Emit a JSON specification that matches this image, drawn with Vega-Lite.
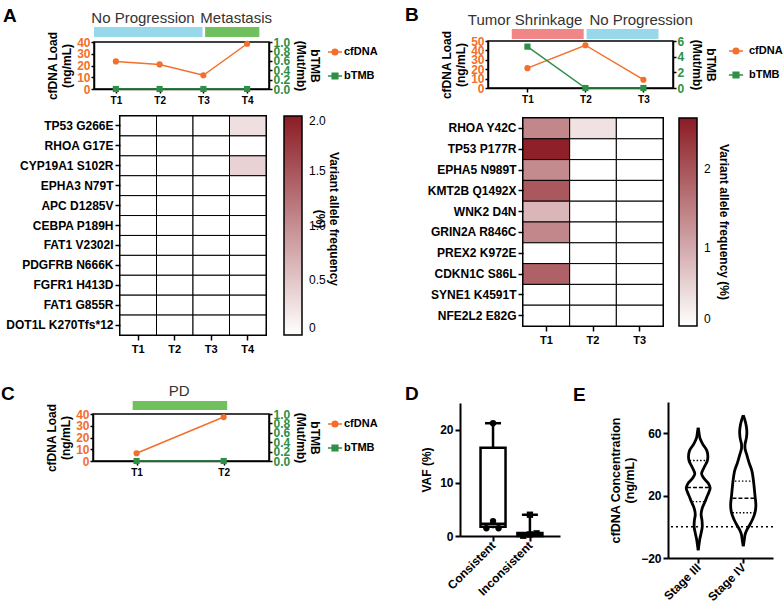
{
"$schema": "https://vega.github.io/schema/vega-lite/v6.json",
"padding": {"left": 1, "top": 6, "right": 0, "bottom": 0},
"config": {
  "font": "Liberation Sans",
  "view": {"stroke": null},
  "axis": {"grid": false, "offset": 0, "labelOverlap": false, "labelFont": "Liberation Sans", "titleFont": "Liberation Sans", "labelFontWeight": "bold", "titleFontWeight": "bold", "labelColor": "black", "titleColor": "black", "domainColor": "black", "tickColor": "black", "domainWidth": 1.5, "tickWidth": 1.5},
  "legend": {"labelFont": "Liberation Sans", "titleFont": "Liberation Sans", "labelColor": "black", "titleColor": "black"},
  "title": {"font": "Liberation Sans", "fontWeight": "bold", "fontSize": 19, "anchor": "start", "frame": "group", "offset": 0, "baseline": "alphabetic", "color": "black"}
},
"bounds": "flush",
"spacing": 0,
"resolve": {"scale": {"color": "independent", "shape": "independent"}},
"vconcat": [
 {"bounds": "flush", "spacing": 0, "resolve": {"scale": {"color": "independent", "shape": "independent"}}, "hconcat": [
   {"width": 4, "height": 1, "data": {"values": []}, "mark": "point"},
   {"width": 175, "height": 30,
    "title": {"text": "A", "dx": -91, "dy": 23},
    "data": {"values": [{"phase": "No Progression", "start": 0.5, "end": 2.98, "mid": 1.62}, {"phase": "Metastasis", "start": 3.04, "end": 4.28, "mid": 3.75}]},
    "layer": [
      {"mark": {"type": "rect"}, "encoding": {"x": {"field": "start", "type": "quantitative", "scale": {"domain": [0.5, 4.5], "nice": false, "zero": false}, "axis": null}, "x2": {"field": "end"}, "y": {"datum": 0, "type": "quantitative", "scale": {"domain": [0, 1], "nice": false}, "axis": null}, "y2": {"datum": 0.33}, "color": {"field": "phase", "type": "nominal", "scale": {"domain": ["No Progression", "Metastasis"], "range": ["#97D8EA", "#70C15E"]}, "legend": null}}},
      {"mark": {"type": "text", "fontSize": 15, "color": "#333333"}, "encoding": {"x": {"field": "mid", "type": "quantitative"}, "y": {"datum": 0.63, "type": "quantitative"}, "text": {"field": "phase"}}}
    ]}
 ]},
 {"width": 1, "height": 2, "data": {"values": []}, "mark": "point"},
 {"bounds": "flush", "spacing": 0, "resolve": {"scale": {"color": "independent", "shape": "independent"}}, "hconcat": [
   {"width": 398, "height": 1, "data": {"values": []}, "mark": "point"},
   {"width": 185, "height": 30,
    "title": {"text": "B", "dx": -83, "dy": 20},
    "data": {"values": [{"phase": "Tumor Shrinkage", "start": 0.73, "end": 1.97, "mid": 0.96}, {"phase": "No Progression", "start": 2.02, "end": 3.26, "mid": 2.96}]},
    "layer": [
      {"mark": {"type": "rect"}, "encoding": {"x": {"field": "start", "type": "quantitative", "scale": {"domain": [0.32, 3.51], "nice": false, "zero": false}, "axis": null}, "x2": {"field": "end"}, "y": {"datum": 0, "type": "quantitative", "scale": {"domain": [0, 1], "nice": false}, "axis": null}, "y2": {"datum": 0.33}, "color": {"field": "phase", "type": "nominal", "scale": {"domain": ["Tumor Shrinkage", "No Progression"], "range": ["#F08686", "#97D8EA"]}, "legend": null}}},
      {"mark": {"type": "text", "fontSize": 15, "color": "#333333"}, "encoding": {"x": {"field": "mid", "type": "quantitative"}, "y": {"datum": 0.63, "type": "quantitative"}, "text": {"field": "phase"}}}
    ]}
 ]},
 {"width": 1, "height": 32, "data": {"values": []}, "mark": "point"},
 {"bounds": "flush", "spacing": 0, "resolve": {"scale": {"color": "independent", "shape": "independent"}}, "hconcat": [
   {"width": 398, "height": 1, "data": {"values": []}, "mark": "point"},
   {"width": 185, "height": 47, "view": {"stroke": "black", "strokeWidth": 1.5},
    "data": {"values": [{"t": 1, "series": "cfDNA", "value": 21.1}, {"t": 2, "series": "cfDNA", "value": 45.5}, {"t": 3, "series": "cfDNA", "value": 8.8}, {"t": 1, "series": "bTMB", "value": 5.28}, {"t": 2, "series": "bTMB", "value": 0}, {"t": 3, "series": "bTMB", "value": 0}]},
    "encoding": {"x": {"field": "t", "type": "quantitative", "scale": {"domain": [0.32, 3.51], "nice": false, "zero": false}, "axis": {"values": [1, 2, 3], "labelExpr": "'T' + datum.value", "title": null, "labelFontSize": 10, "tickSize": 4, "labelPadding": 2, "offset": 0}}},
    "layer": [
      {"transform": [{"filter": "datum.series === 'cfDNA'"}],
       "encoding": {"y": {"field": "value", "type": "quantitative", "scale": {"domain": [0, 50], "nice": false}, "axis": {"orient": "left", "offset": 0, "values": [0, 10, 20, 30, 40, 50], "labelColor": "#F36F2B", "labelFontSize": 12, "tickSize": 3, "labelPadding": 1, "title": ["cfDNA Load", "(ng/mL)"], "titleFontSize": 12, "titlePadding": 3}},
         "color": {"field": "series", "type": "nominal", "scale": {"domain": ["cfDNA", "bTMB"], "range": ["#F36F2B", "#2F8F46"]}, "legend": {"title": null, "orient": "right", "offset": 9, "padding": 2, "rowPadding": 10, "labelFontSize": 11, "labelFontWeight": "bold", "symbolSize": 200, "symbolStrokeWidth": 1.5, "labelOffset": 5, "encode": {"symbols": {"update": {"shape": {"signal": "datum.value === 'cfDNA' ? 'M-1,0H-0.4M0.4,0H1M-0.4,0A0.4,0.4,0,1,0,0.4,0A0.4,0.4,0,1,0,-0.4,0Z' : 'M-1,0H-0.4M0.4,0H1M-0.4,-0.4H0.4V0.4H-0.4Z'"}, "fill": {"signal": "datum.value === 'cfDNA' ? '#F36F2B' : '#2F8F46'"}, "stroke": {"signal": "datum.value === 'cfDNA' ? '#F36F2B' : '#2F8F46'"}, "opacity": {"value": 1}, "fillOpacity": {"value": 1}, "strokeOpacity": {"value": 1}}}}}}},
       "layer": [{"mark": {"type": "line", "strokeWidth": 1.5}}, {"mark": {"type": "point", "filled": true, "opacity": 1, "size": 38, "shape": "circle"}}]},
      {"transform": [{"filter": "datum.series === 'bTMB'"}],
       "encoding": {"y": {"field": "value", "type": "quantitative", "scale": {"domain": [0, 6], "nice": false}, "axis": {"orient": "right", "offset": 0, "values": [0, 2, 4, 6], "labelColor": "#2F8F46", "labelFontSize": 12, "tickSize": 3, "labelPadding": 1, "title": ["bTMB", "(Mut/mb)"], "titleFontSize": 12, "titlePadding": 6}},
         "color": {"field": "series", "type": "nominal", "scale": {"domain": ["cfDNA", "bTMB"], "range": ["#F36F2B", "#2F8F46"]}}},
       "layer": [{"mark": {"type": "line", "strokeWidth": 1.5}}, {"mark": {"type": "point", "filled": true, "opacity": 1, "size": 38, "shape": "square"}}]}
    ],
    "resolve": {"scale": {"y": "independent"}}}
 ]},
 {"width": 1, "height": 1, "data": {"values": []}, "mark": "point"},
 {"bounds": "flush", "spacing": 0, "resolve": {"scale": {"color": "independent", "shape": "independent"}}, "hconcat": [
   {"width": 4, "height": 1, "data": {"values": []}, "mark": "point"},
   {"width": 175, "height": 47, "view": {"stroke": "black", "strokeWidth": 1.5},
    "data": {"values": [{"t": 1, "series": "cfDNA", "value": 23.5}, {"t": 2, "series": "cfDNA", "value": 20.9}, {"t": 3, "series": "cfDNA", "value": 11.7}, {"t": 4, "series": "cfDNA", "value": 38.5}, {"t": 1, "series": "bTMB", "value": 0}, {"t": 2, "series": "bTMB", "value": 0}, {"t": 3, "series": "bTMB", "value": 0}, {"t": 4, "series": "bTMB", "value": 0}]},
    "encoding": {"x": {"field": "t", "type": "quantitative", "scale": {"domain": [0.5, 4.5], "nice": false, "zero": false}, "axis": {"values": [1, 2, 3, 4], "labelExpr": "'T' + datum.value", "title": null, "labelFontSize": 10, "tickSize": 4, "labelPadding": 2, "offset": 0}}},
    "layer": [
      {"transform": [{"filter": "datum.series === 'cfDNA'"}],
       "encoding": {"y": {"field": "value", "type": "quantitative", "scale": {"domain": [0, 40], "nice": false}, "axis": {"orient": "left", "offset": 0, "values": [0, 10, 20, 30, 40], "labelColor": "#F36F2B", "labelFontSize": 12, "tickSize": 3, "labelPadding": 1, "title": ["cfDNA Load", "(ng/mL)"], "titleFontSize": 12, "titlePadding": 3}},
         "color": {"field": "series", "type": "nominal", "scale": {"domain": ["cfDNA", "bTMB"], "range": ["#F36F2B", "#2F8F46"]}, "legend": {"title": null, "orient": "right", "offset": 4, "padding": 2, "rowPadding": 10, "labelFontSize": 11, "labelFontWeight": "bold", "symbolSize": 200, "symbolStrokeWidth": 1.5, "labelOffset": 1, "encode": {"symbols": {"update": {"shape": {"signal": "datum.value === 'cfDNA' ? 'M-1,0H-0.4M0.4,0H1M-0.4,0A0.4,0.4,0,1,0,0.4,0A0.4,0.4,0,1,0,-0.4,0Z' : 'M-1,0H-0.4M0.4,0H1M-0.4,-0.4H0.4V0.4H-0.4Z'"}, "fill": {"signal": "datum.value === 'cfDNA' ? '#F36F2B' : '#2F8F46'"}, "stroke": {"signal": "datum.value === 'cfDNA' ? '#F36F2B' : '#2F8F46'"}, "opacity": {"value": 1}, "fillOpacity": {"value": 1}, "strokeOpacity": {"value": 1}}}}}}},
       "layer": [{"mark": {"type": "line", "strokeWidth": 1.5}}, {"mark": {"type": "point", "filled": true, "opacity": 1, "size": 38, "shape": "circle"}}]},
      {"transform": [{"filter": "datum.series === 'bTMB'"}],
       "encoding": {"y": {"field": "value", "type": "quantitative", "scale": {"domain": [0, 1], "nice": false}, "axis": {"orient": "right", "offset": 0, "values": [0, 0.2, 0.4, 0.6, 0.8, 1], "format": ".1f", "labelColor": "#2F8F46", "labelFontSize": 12, "tickSize": 3, "labelPadding": 1, "title": ["bTMB", "(Mut/mb)"], "titleFontSize": 12, "titlePadding": 4}},
         "color": {"field": "series", "type": "nominal", "scale": {"domain": ["cfDNA", "bTMB"], "range": ["#F36F2B", "#2F8F46"]}}},
       "layer": [{"mark": {"type": "line", "strokeWidth": 1.5}}, {"mark": {"type": "point", "filled": true, "opacity": 1, "size": 38, "shape": "square"}}]}
    ],
    "resolve": {"scale": {"y": "independent"}}}
 ]},
 {"width": 1, "height": 74, "data": {"values": []}, "mark": "point"},
 {"bounds": "flush", "spacing": 0, "resolve": {"scale": {"color": "independent"}}, "hconcat": [
   {"width": 30, "height": 1, "data": {"values": []}, "mark": "point"},
   {"width": 146, "height": 219,
    "view": {"stroke": "black", "strokeWidth": 2},
    "data": {"values": [
      {"g": "TP53 G266E", "t": "T1", "v": 0}, {"g": "TP53 G266E", "t": "T2", "v": 0}, {"g": "TP53 G266E", "t": "T3", "v": 0}, {"g": "TP53 G266E", "t": "T4", "v": 0.28},
      {"g": "RHOA G17E", "t": "T1", "v": 0}, {"g": "RHOA G17E", "t": "T2", "v": 0}, {"g": "RHOA G17E", "t": "T3", "v": 0}, {"g": "RHOA G17E", "t": "T4", "v": 0},
      {"g": "CYP19A1 S102R", "t": "T1", "v": 0}, {"g": "CYP19A1 S102R", "t": "T2", "v": 0}, {"g": "CYP19A1 S102R", "t": "T3", "v": 0}, {"g": "CYP19A1 S102R", "t": "T4", "v": 0.4},
      {"g": "EPHA3 N79T", "t": "T1", "v": 0}, {"g": "EPHA3 N79T", "t": "T2", "v": 0}, {"g": "EPHA3 N79T", "t": "T3", "v": 0}, {"g": "EPHA3 N79T", "t": "T4", "v": 0},
      {"g": "APC D1285V", "t": "T1", "v": 0}, {"g": "APC D1285V", "t": "T2", "v": 0}, {"g": "APC D1285V", "t": "T3", "v": 0}, {"g": "APC D1285V", "t": "T4", "v": 0},
      {"g": "CEBPA P189H", "t": "T1", "v": 0}, {"g": "CEBPA P189H", "t": "T2", "v": 0}, {"g": "CEBPA P189H", "t": "T3", "v": 0}, {"g": "CEBPA P189H", "t": "T4", "v": 0},
      {"g": "FAT1 V2302I", "t": "T1", "v": 0}, {"g": "FAT1 V2302I", "t": "T2", "v": 0}, {"g": "FAT1 V2302I", "t": "T3", "v": 0}, {"g": "FAT1 V2302I", "t": "T4", "v": 0},
      {"g": "PDGFRB N666K", "t": "T1", "v": 0}, {"g": "PDGFRB N666K", "t": "T2", "v": 0}, {"g": "PDGFRB N666K", "t": "T3", "v": 0}, {"g": "PDGFRB N666K", "t": "T4", "v": 0},
      {"g": "FGFR1 H413D", "t": "T1", "v": 0}, {"g": "FGFR1 H413D", "t": "T2", "v": 0}, {"g": "FGFR1 H413D", "t": "T3", "v": 0}, {"g": "FGFR1 H413D", "t": "T4", "v": 0},
      {"g": "FAT1 G855R", "t": "T1", "v": 0}, {"g": "FAT1 G855R", "t": "T2", "v": 0}, {"g": "FAT1 G855R", "t": "T3", "v": 0}, {"g": "FAT1 G855R", "t": "T4", "v": 0},
      {"g": "DOT1L K270Tfs*12", "t": "T1", "v": 0}, {"g": "DOT1L K270Tfs*12", "t": "T2", "v": 0}, {"g": "DOT1L K270Tfs*12", "t": "T3", "v": 0}, {"g": "DOT1L K270Tfs*12", "t": "T4", "v": 0}
    ]},
    "mark": {"type": "rect", "stroke": "black", "strokeWidth": 1},
    "encoding": {
      "x": {"field": "t", "type": "ordinal", "sort": ["T1", "T2", "T3", "T4"], "axis": {"title": null, "labelAngle": 0, "domain": false, "labelFontSize": 11, "tickSize": 5, "labelPadding": 3}},
      "y": {"field": "g", "type": "ordinal", "sort": ["TP53 G266E", "RHOA G17E", "CYP19A1 S102R", "EPHA3 N79T", "APC D1285V", "CEBPA P189H", "FAT1 V2302I", "PDGFRB N666K", "FGFR1 H413D", "FAT1 G855R", "DOT1L K270Tfs*12"], "axis": {"title": null, "domain": false, "labelFontSize": 12, "tickSize": 5, "labelPadding": 2}},
      "color": {"field": "v", "type": "quantitative", "scale": {"domain": [0, 2], "range": ["#FFFFFF", "#8B1C24"], "interpolate": "rgb"}, "legend": {"title": ["Variant allele frequency", "(%)"], "titleOrient": "right", "titleAnchor": "middle", "direction": "vertical", "orient": "right", "offset": 18, "gradientLength": 219, "gradientThickness": 18, "gradientStrokeColor": "black", "gradientStrokeWidth": 1.5, "values": [0, 0.5, 1, 1.5, 2], "labelExpr": "datum.value === 0 ? '0' : format(datum.value, '.1f')", "labelOverlap": false, "labelFontSize": 12, "labelFontWeight": "normal", "labelOffset": 7, "titleFontSize": 12, "titleFontWeight": "bold", "titlePadding": 1, "titleLimit": 300}}
    }}
 ]},
 {"width": 1, "height": 2, "data": {"values": []}, "mark": "point"},
 {"bounds": "flush", "spacing": 0, "resolve": {"scale": {"color": "independent"}}, "hconcat": [
   {"width": 433, "height": 1, "data": {"values": []}, "mark": "point"},
   {"width": 140, "height": 208,
    "view": {"stroke": "black", "strokeWidth": 2},
    "data": {"values": [
      {"g": "RHOA Y42C", "t": "T1", "v": 1.4}, {"g": "RHOA Y42C", "t": "T2", "v": 0.35}, {"g": "RHOA Y42C", "t": "T3", "v": 0},
      {"g": "TP53 P177R", "t": "T1", "v": 2.6}, {"g": "TP53 P177R", "t": "T2", "v": 0}, {"g": "TP53 P177R", "t": "T3", "v": 0},
      {"g": "EPHA5 N989T", "t": "T1", "v": 1.35}, {"g": "EPHA5 N989T", "t": "T2", "v": 0}, {"g": "EPHA5 N989T", "t": "T3", "v": 0},
      {"g": "KMT2B Q1492X", "t": "T1", "v": 1.95}, {"g": "KMT2B Q1492X", "t": "T2", "v": 0}, {"g": "KMT2B Q1492X", "t": "T3", "v": 0},
      {"g": "WNK2 D4N", "t": "T1", "v": 0.85}, {"g": "WNK2 D4N", "t": "T2", "v": 0}, {"g": "WNK2 D4N", "t": "T3", "v": 0},
      {"g": "GRIN2A R846C", "t": "T1", "v": 1.4}, {"g": "GRIN2A R846C", "t": "T2", "v": 0}, {"g": "GRIN2A R846C", "t": "T3", "v": 0},
      {"g": "PREX2 K972E", "t": "T1", "v": 0}, {"g": "PREX2 K972E", "t": "T2", "v": 0}, {"g": "PREX2 K972E", "t": "T3", "v": 0},
      {"g": "CDKN1C S86L", "t": "T1", "v": 1.85}, {"g": "CDKN1C S86L", "t": "T2", "v": 0}, {"g": "CDKN1C S86L", "t": "T3", "v": 0},
      {"g": "SYNE1 K4591T", "t": "T1", "v": 0}, {"g": "SYNE1 K4591T", "t": "T2", "v": 0}, {"g": "SYNE1 K4591T", "t": "T3", "v": 0},
      {"g": "NFE2L2 E82G", "t": "T1", "v": 0}, {"g": "NFE2L2 E82G", "t": "T2", "v": 0}, {"g": "NFE2L2 E82G", "t": "T3", "v": 0}
    ]},
    "mark": {"type": "rect", "stroke": "black", "strokeWidth": 1},
    "encoding": {
      "x": {"field": "t", "type": "ordinal", "sort": ["T1", "T2", "T3"], "axis": {"title": null, "labelAngle": 0, "domain": false, "labelFontSize": 11, "tickSize": 5, "labelPadding": 3}},
      "y": {"field": "g", "type": "ordinal", "sort": ["RHOA Y42C", "TP53 P177R", "EPHA5 N989T", "KMT2B Q1492X", "WNK2 D4N", "GRIN2A R846C", "PREX2 K972E", "CDKN1C S86L", "SYNE1 K4591T", "NFE2L2 E82G"], "axis": {"title": null, "domain": false, "labelFontSize": 12, "tickSize": 5, "labelPadding": 2}},
      "color": {"field": "v", "type": "quantitative", "scale": {"domain": [0, 2.65], "range": ["#FFFFFF", "#8B1C24"], "interpolate": "rgb"}, "legend": {"title": "Variant allele frequency (%)", "titleOrient": "right", "titleAnchor": "middle", "direction": "vertical", "orient": "right", "offset": 16, "gradientLength": 208, "gradientThickness": 18, "gradientStrokeColor": "black", "gradientStrokeWidth": 1.5, "values": [0, 1, 2], "format": "d", "labelOverlap": false, "labelFontSize": 12, "labelFontWeight": "normal", "labelOffset": 7, "titleFontSize": 12, "titleFontWeight": "bold", "titlePadding": 6, "titleLimit": 300}}
    }}
 ]},
 {"width": 1, "height": 262, "data": {"values": []}, "mark": "point"},
 {"bounds": "flush", "spacing": 0, "resolve": {"scale": {"color": "independent", "shape": "independent"}}, "hconcat": [
   {"width": 3, "height": 1, "data": {"values": []}, "mark": "point"},
   {"width": 176, "height": 30,
    "title": {"text": "C", "dx": -92, "dy": 28},
    "data": {"values": [{"phase": "PD", "start": 0.955, "end": 2.04, "mid": 1.49}]},
    "layer": [
      {"mark": {"type": "rect"}, "encoding": {"x": {"field": "start", "type": "quantitative", "scale": {"domain": [0.5, 2.52], "nice": false, "zero": false}, "axis": null}, "x2": {"field": "end"}, "y": {"datum": 0, "type": "quantitative", "scale": {"domain": [0, 1], "nice": false}, "axis": null}, "y2": {"datum": 0.3}, "color": {"field": "phase", "type": "nominal", "scale": {"domain": ["PD"], "range": ["#70C15E"]}, "legend": null}}},
      {"mark": {"type": "text", "fontSize": 15, "color": "#333333"}, "encoding": {"x": {"field": "mid", "type": "quantitative"}, "y": {"datum": 0.63, "type": "quantitative"}, "text": {"field": "phase"}}}
    ]}
 ]},
 {"width": 1, "height": 22, "data": {"values": []}, "mark": "point"},
 {"bounds": "flush", "spacing": 0, "resolve": {"scale": {"color": "independent", "shape": "independent"}}, "hconcat": [
   {"width": 578, "height": 1, "data": {"values": []}, "mark": "point"},
   {"width": 105, "height": 156,
    "title": {"text": "E", "dx": -95, "dy": 7},
    "data": {"values": [
        {"stage": "Stage III", "y": 63.5, "lo": 1, "hi": 1}, {"stage": "Stage III", "y": 61, "lo": 0.985, "hi": 1.015}, {"stage": "Stage III", "y": 57, "lo": 0.963, "hi": 1.037}, {"stage": "Stage III", "y": 53, "lo": 0.9, "hi": 1.1}, {"stage": "Stage III", "y": 49, "lo": 0.81, "hi": 1.19}, {"stage": "Stage III", "y": 45, "lo": 0.785, "hi": 1.215}, {"stage": "Stage III", "y": 42, "lo": 0.8, "hi": 1.2}, {"stage": "Stage III", "y": 38, "lo": 0.87, "hi": 1.13}, {"stage": "Stage III", "y": 34, "lo": 0.925, "hi": 1.075}, {"stage": "Stage III", "y": 31, "lo": 0.87, "hi": 1.13}, {"stage": "Stage III", "y": 28, "lo": 0.78, "hi": 1.22}, {"stage": "Stage III", "y": 25, "lo": 0.735, "hi": 1.265}, {"stage": "Stage III", "y": 22, "lo": 0.765, "hi": 1.235}, {"stage": "Stage III", "y": 19, "lo": 0.81, "hi": 1.19}, {"stage": "Stage III", "y": 16, "lo": 0.85, "hi": 1.15}, {"stage": "Stage III", "y": 12, "lo": 0.91, "hi": 1.09}, {"stage": "Stage III", "y": 8, "lo": 0.935, "hi": 1.065}, {"stage": "Stage III", "y": 4, "lo": 0.915, "hi": 1.085}, {"stage": "Stage III", "y": 0, "lo": 0.91, "hi": 1.09}, {"stage": "Stage III", "y": -4, "lo": 0.935, "hi": 1.065}, {"stage": "Stage III", "y": -8, "lo": 0.965, "hi": 1.035}, {"stage": "Stage III", "y": -12, "lo": 0.985, "hi": 1.015}, {"stage": "Stage III", "y": -15, "lo": 1, "hi": 1},
        {"stage": "Stage IV", "y": 71.5, "lo": 2, "hi": 2}, {"stage": "Stage IV", "y": 69, "lo": 1.97, "hi": 2.03}, {"stage": "Stage IV", "y": 65, "lo": 1.935, "hi": 2.065}, {"stage": "Stage IV", "y": 61, "lo": 1.92, "hi": 2.08}, {"stage": "Stage IV", "y": 57, "lo": 1.93, "hi": 2.07}, {"stage": "Stage IV", "y": 53, "lo": 1.96, "hi": 2.04}, {"stage": "Stage IV", "y": 50, "lo": 1.96, "hi": 2.04}, {"stage": "Stage IV", "y": 46, "lo": 1.92, "hi": 2.08}, {"stage": "Stage IV", "y": 41, "lo": 1.87, "hi": 2.13}, {"stage": "Stage IV", "y": 36, "lo": 1.81, "hi": 2.19}, {"stage": "Stage IV", "y": 31, "lo": 1.78, "hi": 2.22}, {"stage": "Stage IV", "y": 26, "lo": 1.76, "hi": 2.24}, {"stage": "Stage IV", "y": 20, "lo": 1.74, "hi": 2.26}, {"stage": "Stage IV", "y": 14, "lo": 1.72, "hi": 2.28}, {"stage": "Stage IV", "y": 9, "lo": 1.74, "hi": 2.26}, {"stage": "Stage IV", "y": 5, "lo": 1.79, "hi": 2.21}, {"stage": "Stage IV", "y": 1, "lo": 1.86, "hi": 2.14}, {"stage": "Stage IV", "y": -2, "lo": 1.92, "hi": 2.08}, {"stage": "Stage IV", "y": -5, "lo": 1.96, "hi": 2.04}, {"stage": "Stage IV", "y": -9, "lo": 1.98, "hi": 2.02}, {"stage": "Stage IV", "y": -12.5, "lo": 2, "hi": 2}
    ]},
    "layer": [
      {"data": {"values": [{}]}, "mark": {"type": "rule", "strokeDash": [2, 3], "strokeWidth": 1.5, "color": "black"}, "encoding": {"y": {"datum": 0, "type": "quantitative", "scale": {"domain": [-20, 80], "nice": false}, "axis": {"values": [-20, 0, 20, 40, 60, 80], "title": ["cfDNA Concentration", "(ng/mL)"], "titleFontSize": 12.5, "labelFontSize": 12, "domainWidth": 2, "tickWidth": 2, "tickSize": 5, "titlePadding": 4}}}},
      {"mark": {"type": "line", "interpolate": "catmull-rom", "stroke": "black", "strokeWidth": 2.8},
       "encoding": {"y": {"field": "y", "type": "quantitative"}, "x": {"field": "lo", "type": "quantitative", "scale": {"domain": [0.33, 2.66], "nice": false, "zero": false}, "axis": {"values": [1, 2], "labelExpr": "datum.value === 1 ? 'Stage III' : 'Stage IV'", "labelAngle": -45, "labelAlign": "right", "labelBaseline": "middle", "title": null, "labelFontSize": 12, "domainWidth": 2, "tickWidth": 2, "tickSize": 5}}, "detail": {"field": "stage"}, "order": {"field": "y", "type": "quantitative"}}},
      {"mark": {"type": "line", "interpolate": "catmull-rom", "stroke": "black", "strokeWidth": 2.8},
       "encoding": {"y": {"field": "y", "type": "quantitative"}, "x": {"field": "hi", "type": "quantitative"}, "detail": {"field": "stage"}, "order": {"field": "y", "type": "quantitative"}}},
      {"data": {"values": [{"stage": "Stage III", "y": 42.5, "lo": 0.81, "hi": 1.19, "kind": "quartile"}, {"stage": "Stage III", "y": 25.2, "lo": 0.75, "hi": 1.25, "kind": "median"}, {"stage": "Stage III", "y": 16.2, "lo": 0.87, "hi": 1.13, "kind": "quartile"}, {"stage": "Stage IV", "y": 29.3, "lo": 1.815, "hi": 2.185, "kind": "quartile"}, {"stage": "Stage IV", "y": 18.3, "lo": 1.76, "hi": 2.24, "kind": "median"}, {"stage": "Stage IV", "y": 9.0, "lo": 1.76, "hi": 2.24, "kind": "quartile"}]},
       "mark": {"type": "rule", "strokeWidth": 1.3, "color": "black"},
       "encoding": {"y": {"field": "y", "type": "quantitative"}, "x": {"field": "lo", "type": "quantitative"}, "x2": {"field": "hi"}, "strokeDash": {"field": "kind", "type": "nominal", "scale": {"domain": ["median", "quartile"], "range": [[4, 2], [1.5, 2]]}, "legend": null}}}
    ]}
 ]},
 {"width": 1, "height": 1, "data": {"values": []}, "mark": "point"},
 {"bounds": "flush", "spacing": 0, "resolve": {"scale": {"color": "independent", "shape": "independent"}}, "hconcat": [
   {"width": 370, "height": 1, "data": {"values": []}, "mark": "point"},
   {"width": 100, "height": 133,
    "title": {"text": "D", "dx": -55, "dy": 5},
    "layer": [
      {"data": {"values": [{"group": "Consistent", "g": 1, "min": 1.45, "q1": 1.75, "median": 2.3, "q3": 16.6, "max": 21.2}, {"group": "Inconsistent", "g": 2, "min": 0, "q1": 0.02, "median": 0.3, "q3": 0.55, "max": 4.0}]},
       "layer": [
         {"mark": {"type": "rule", "strokeWidth": 2.5, "color": "black"}, "encoding": {"x": {"field": "g", "type": "quantitative", "scale": {"domain": [0.24, 2.68], "nice": false, "zero": false}, "axis": {"values": [1, 2], "labelExpr": "datum.value === 1 ? 'Consistent' : 'Inconsistent'", "labelAngle": -45, "labelAlign": "right", "labelBaseline": "middle", "title": null, "labelFontSize": 12, "domainWidth": 2, "tickWidth": 2, "tickSize": 5}}, "y": {"field": "min", "type": "quantitative", "scale": {"domain": [0, 25], "nice": false}, "axis": {"values": [0, 5, 10, 15, 20, 25], "title": "VAF (%)", "titleFontSize": 12, "labelFontSize": 12, "domainWidth": 2, "tickWidth": 2, "tickSize": 5, "titlePadding": 6}}, "y2": {"field": "max"}}},
         {"mark": {"type": "bar", "width": 25, "fill": "white", "stroke": "black", "strokeWidth": 2.5}, "encoding": {"x": {"field": "g", "type": "quantitative"}, "y": {"field": "q1", "type": "quantitative"}, "y2": {"field": "q3"}}},
         {"mark": {"type": "tick", "orient": "horizontal", "size": 25, "thickness": 2.5, "color": "black", "opacity": 1}, "encoding": {"x": {"field": "g", "type": "quantitative"}, "y": {"field": "median", "type": "quantitative"}}},
         {"mark": {"type": "tick", "orient": "horizontal", "size": 16, "thickness": 2.5, "color": "black", "opacity": 1}, "encoding": {"x": {"field": "g", "type": "quantitative"}, "y": {"field": "max", "type": "quantitative"}}}
       ]},
      {"data": {"values": [{"group": "Consistent", "x": 1, "vaf": 21.2}, {"group": "Consistent", "x": 1, "vaf": 2.8}, {"group": "Consistent", "x": 0.82, "vaf": 1.45}, {"group": "Consistent", "x": 1.15, "vaf": 1.45}, {"group": "Inconsistent", "x": 2, "vaf": 4.0}, {"group": "Inconsistent", "x": 1.82, "vaf": 0.05}, {"group": "Inconsistent", "x": 2.0, "vaf": 0.3}, {"group": "Inconsistent", "x": 2.18, "vaf": 0.5}]},
       "mark": {"type": "point", "filled": true, "opacity": 1, "size": 40, "color": "black"},
       "encoding": {"x": {"field": "x", "type": "quantitative"}, "y": {"field": "vaf", "type": "quantitative"}, "shape": {"field": "group", "type": "nominal", "scale": {"domain": ["Consistent", "Inconsistent"], "range": ["circle", "square"]}, "legend": null}}}
    ]}
 ]},
 {"width": 1, "height": 11, "data": {"values": []}, "mark": "point"},
 {"bounds": "flush", "spacing": 0, "resolve": {"scale": {"color": "independent", "shape": "independent"}}, "hconcat": [
   {"width": 3, "height": 1, "data": {"values": []}, "mark": "point"},
   {"width": 176, "height": 47, "view": {"stroke": "black", "strokeWidth": 1.5},
    "data": {"values": [{"t": 1, "series": "cfDNA", "value": 6.6}, {"t": 2, "series": "cfDNA", "value": 37.4}, {"t": 1, "series": "bTMB", "value": 0}, {"t": 2, "series": "bTMB", "value": 0}]},
    "encoding": {"x": {"field": "t", "type": "quantitative", "scale": {"domain": [0.5, 2.52], "nice": false, "zero": false}, "axis": {"values": [1, 2], "labelExpr": "'T' + datum.value", "title": null, "labelFontSize": 10, "tickSize": 4, "labelPadding": 2, "offset": 0}}},
    "layer": [
      {"transform": [{"filter": "datum.series === 'cfDNA'"}],
       "encoding": {"y": {"field": "value", "type": "quantitative", "scale": {"domain": [0, 40], "nice": false}, "axis": {"orient": "left", "offset": 0, "values": [0, 10, 20, 30, 40], "labelColor": "#F36F2B", "labelFontSize": 12, "tickSize": 3, "labelPadding": 1, "title": ["cfDNA Load", "(ng/mL)"], "titleFontSize": 12, "titlePadding": 3}},
         "color": {"field": "series", "type": "nominal", "scale": {"domain": ["cfDNA", "bTMB"], "range": ["#F36F2B", "#2F8F46"]}, "legend": {"title": null, "orient": "right", "offset": 4, "padding": 2, "rowPadding": 10, "labelFontSize": 11, "labelFontWeight": "bold", "symbolSize": 200, "symbolStrokeWidth": 1.5, "labelOffset": 1, "encode": {"symbols": {"update": {"shape": {"signal": "datum.value === 'cfDNA' ? 'M-1,0H-0.4M0.4,0H1M-0.4,0A0.4,0.4,0,1,0,0.4,0A0.4,0.4,0,1,0,-0.4,0Z' : 'M-1,0H-0.4M0.4,0H1M-0.4,-0.4H0.4V0.4H-0.4Z'"}, "fill": {"signal": "datum.value === 'cfDNA' ? '#F36F2B' : '#2F8F46'"}, "stroke": {"signal": "datum.value === 'cfDNA' ? '#F36F2B' : '#2F8F46'"}, "opacity": {"value": 1}, "fillOpacity": {"value": 1}, "strokeOpacity": {"value": 1}}}}}}},
       "layer": [{"mark": {"type": "line", "strokeWidth": 1.5}}, {"mark": {"type": "point", "filled": true, "opacity": 1, "size": 38, "shape": "circle"}}]},
      {"transform": [{"filter": "datum.series === 'bTMB'"}],
       "encoding": {"y": {"field": "value", "type": "quantitative", "scale": {"domain": [0, 1], "nice": false}, "axis": {"orient": "right", "offset": 0, "values": [0, 0.2, 0.4, 0.6, 0.8, 1], "format": ".1f", "labelColor": "#2F8F46", "labelFontSize": 12, "tickSize": 3, "labelPadding": 1, "title": ["bTMB", "(Mut/mb)"], "titleFontSize": 12, "titlePadding": 4}},
         "color": {"field": "series", "type": "nominal", "scale": {"domain": ["cfDNA", "bTMB"], "range": ["#F36F2B", "#2F8F46"]}}},
       "layer": [{"mark": {"type": "line", "strokeWidth": 1.5}}, {"mark": {"type": "point", "filled": true, "opacity": 1, "size": 38, "shape": "square"}}]}
    ],
    "resolve": {"scale": {"y": "independent"}}}
 ]}
]
}
